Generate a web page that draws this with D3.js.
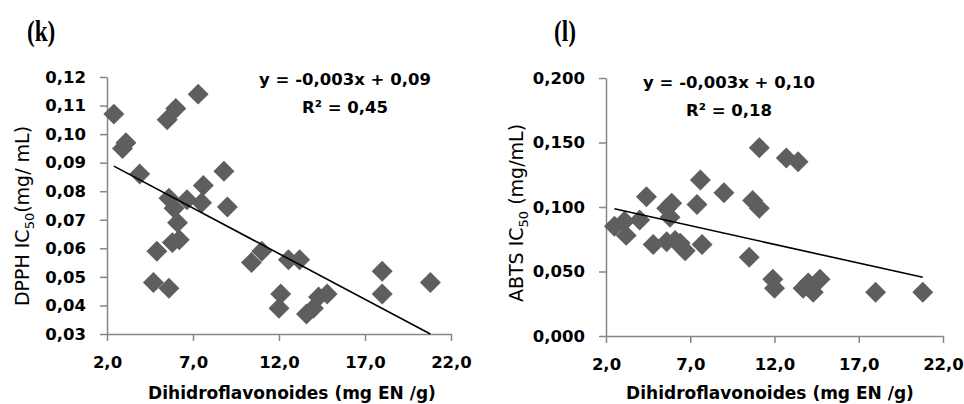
<!DOCTYPE html>
<html>
<head>
<meta charset="utf-8">
<script src="https://cdn.jsdelivr.net/npm/d3@7"></script>
<style>
  body { margin: 0; background: #fff; }
  svg { display: block; }
  .tick text { font-family: "DejaVu Sans", sans-serif; font-weight: bold; font-size: 16.5px; fill: #000; }
</style>
</head>
<body>
<div class="fig"></div>
<script>
// (k) DPPH vs dihidroflavonoides
var xK = [2.4, 3.1, 2.9, 3.9, 5.5, 6.0, 7.3, 8.8, 7.6, 5.6, 6.65, 7.5, 9.0, 5.9, 6.1, 6.2, 5.8,
          4.9, 4.7, 5.6, 10.4, 11.0, 12.55, 13.2, 12.1, 12.0, 13.6, 14.0, 14.3, 14.8, 18.0, 18.0, 20.8];
var yK = [0.107, 0.097, 0.095, 0.086, 0.105, 0.109, 0.114, 0.087, 0.082, 0.0775, 0.077, 0.076, 0.0745, 0.074, 0.069, 0.063, 0.062,
          0.059, 0.048, 0.046, 0.055, 0.059, 0.056, 0.056, 0.044, 0.039, 0.037, 0.039, 0.043, 0.044, 0.052, 0.044, 0.048];
var trendK = [[2.4, 0.0888], [20.8, 0.030]];
var yTicksK = [0.03, 0.04, 0.05, 0.06, 0.07, 0.08, 0.09, 0.10, 0.11, 0.12];

// (l) ABTS vs dihidroflavonoides
var xL = [2.5, 3.1, 3.2, 4.0, 4.4, 4.8, 5.6, 5.9, 5.8, 5.6, 6.1, 6.4, 6.7, 7.4, 7.6, 7.7,
          9.0, 10.5, 10.7, 11.1, 11.1, 11.9, 12.0, 12.7, 13.4, 13.7, 14.0, 14.3, 14.7, 18.0, 20.8];
var yL = [0.085, 0.089, 0.078, 0.090, 0.108, 0.071, 0.099, 0.103, 0.092, 0.073, 0.074, 0.072, 0.066, 0.102, 0.121, 0.071,
          0.111, 0.061, 0.105, 0.099, 0.146, 0.044, 0.037, 0.138, 0.135, 0.037, 0.041, 0.034, 0.044, 0.034, 0.034];
var trendL = [[2.5, 0.0986], [20.8, 0.0455]];
var yTicksL = [0, 0.05, 0.10, 0.15, 0.20];

var xTicks = [2, 7, 12, 17, 22];

var ptLocale = d3.formatLocale({decimal: ",", thousands: ".", grouping: [3], currency: ["", ""]});

var svg = d3.select('.fig').append('svg').attr('width', 964).attr('height', 404);

function panel(opt) {
  var x = d3.scaleLinear().domain([2, 22]).range([opt.left, opt.right]);
  var y = d3.scaleLinear().domain(opt.ydom).range([opt.bottom, opt.top]);
  var g = svg.append('g');

  var yAxis = d3.axisLeft(y).tickValues(opt.yticks).tickFormat(ptLocale.format(opt.yfmt))
                .tickSizeInner(7).tickSizeOuter(0).tickPadding(14);
  var xAxis = d3.axisBottom(x).tickValues(xTicks).tickFormat(ptLocale.format('.1f'))
                .tickSizeInner(7).tickSizeOuter(0).tickPadding(15);

  g.append('g').attr('transform', 'translate(' + opt.left + ',0)').call(yAxis);
  g.append('g').attr('transform', 'translate(0,' + opt.bottom + ')').call(xAxis);
  g.selectAll('.domain, .tick line').attr('stroke', '#868686').attr('stroke-width', 1.5);

  g.selectAll('.pt')
    .data(opt.xs.map(function (d, i) { return [d, opt.ys[i]]; }))
    .enter().append('path')
    .attr('d', d3.symbol().type(d3.symbolSquare).size(220))
    .attr('transform', function (d) { return 'translate(' + x(d[0]) + ',' + y(d[1]) + ') rotate(45)'; })
    .attr('fill', '#5e5e5e');

  g.append('path')
    .datum(opt.trend)
    .attr('d', d3.line().x(function (d) { return x(d[0]); }).y(function (d) { return y(d[1]); }))
    .attr('stroke', '#000').attr('stroke-width', 1.6).attr('fill', 'none');

  var eq = g.append('g').attr('font-family', '"DejaVu Sans", sans-serif').attr('font-weight', 'bold')
            .attr('font-size', 16.5).attr('text-anchor', 'middle');
  eq.append('text').attr('x', opt.eqx).attr('y', opt.eqy).text(opt.eq1);
  eq.append('text').attr('x', opt.eqx).attr('y', opt.eqy + 28).text(opt.eq2);

  g.append('text')
    .attr('x', opt.xtitle).attr('y', 399)
    .attr('text-anchor', 'middle')
    .attr('font-family', '"DejaVu Sans", sans-serif').attr('font-weight', 'bold').attr('font-size', 17)
    .text('Dihidroflavonoides (mg EN /g)');

  var yt = g.append('text')
    .attr('transform', 'translate(' + opt.ytx + ',' + opt.yty + ') rotate(-90)')
    .attr('text-anchor', 'middle')
    .attr('font-family', '"DejaVu Sans", sans-serif').attr('font-size', 19);
  yt.append('tspan').text(opt.ytitle[0]);
  yt.append('tspan').attr('font-size', 13).attr('dy', 5).text('50');
  yt.append('tspan').attr('dy', -5).text(opt.ytitle[1]);

  svg.append('text')
    .attr('transform', 'translate(' + opt.labx + ',41) scale(0.8,1)')
    .attr('font-family', '"Liberation Serif", serif').attr('font-weight', 'bold').attr('font-size', 29)
    .text(opt.label);
}

panel({
  left: 107, right: 451, top: 77, bottom: 334,
  ydom: [0.03, 0.12], yticks: yTicksK, yfmt: '.2f',
  xs: xK, ys: yK, trend: trendK,
  eq1: 'y = -0,003x + 0,09', eq2: 'R\u00b2 = 0,45', eqx: 345, eqy: 85,
  xtitle: 292, ytitle: ['DPPH IC', '(mg/ mL)'], ytx: 29, yty: 216,
  label: '(k)', labx: 27
});

panel({
  left: 606, right: 943, top: 78, bottom: 336,
  ydom: [0, 0.2], yticks: yTicksL, yfmt: '.3f',
  xs: xL, ys: yL, trend: trendL,
  eq1: 'y = -0,003x + 0,10', eq2: 'R\u00b2 = 0,18', eqx: 729, eqy: 88,
  xtitle: 770, ytitle: ['ABTS IC', ' (mg/mL)'], ytx: 523, yty: 213,
  label: '(l)', labx: 554
});
</script>
</body>
</html>
